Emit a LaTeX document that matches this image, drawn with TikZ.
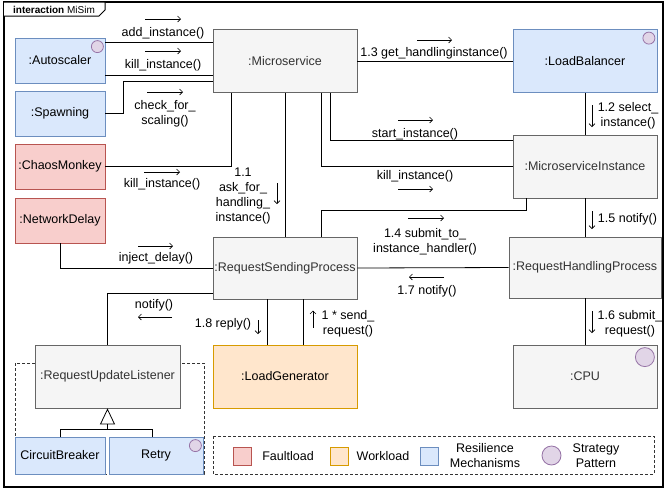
\documentclass[tikz,border=0pt]{standalone}
\usepackage{fontspec}
\setmainfont{Liberation Sans}
\usetikzlibrary{arrows.meta,calc}
\definecolor{gfill}{HTML}{F5F5F5}
\definecolor{gline}{HTML}{666666}
\definecolor{gtext}{HTML}{333333}
\definecolor{bfill}{HTML}{DAE8FC}
\definecolor{bline}{HTML}{6C8EBF}
\definecolor{rfill}{HTML}{F8CECC}
\definecolor{rline}{HTML}{B85450}
\definecolor{ofill}{HTML}{FFE6CC}
\definecolor{oline}{HTML}{D79B00}
\definecolor{pfill}{HTML}{E1D5E7}
\definecolor{pline}{HTML}{9673A6}
\tikzset{
  box/.style={draw, rectangle, inner sep=0pt, line width=0.8pt, align=center},
  gbox/.style={box, fill=gfill, draw=gline, text=gtext},
  bbox/.style={box, fill=bfill, draw=bline},
  rbox/.style={box, fill=rfill, draw=rline},
  obox/.style={box, fill=ofill, draw=oline},
  conn/.style={line width=0.8pt, draw=black},
  lbl/.style={inner sep=0pt, align=center},
  msg/.style={-{Straight Barb[length=3pt,width=6pt]}, line width=0.6pt},
  strat/.style={circle, draw=pline, fill=pfill, inner sep=0pt, line width=0.8pt},
  grp/.style={draw=gtext, dash pattern=on 3pt off 2pt, line width=0.8pt},
}
\begin{document}
\begin{tikzpicture}[x=1pt, y=-1pt, font=\fontsize{12.5}{15}\selectfont]
\useasboundingbox (0,0) rectangle (665,491);
\fill[white] (0,0) rectangle (665,491);
% frame
\draw[line width=1.5pt] (4,2) rectangle (663,487);
\draw[line width=1pt, fill=white] (4,2) -- (105,2) -- (105,10) -- (99,16) -- (4,16);
\node[lbl, font=\fontsize{10}{12}\selectfont] (hdr) at (54,9.5) {\textbf{interaction} MiSim};

% groups (behind)
\draw[grp] (15,363) rectangle (204,474);
\draw[grp] (213,436) rectangle (654,474);

% nodes
\node[bbox, minimum width=90pt, minimum height=45pt] (auto) at (60,60.5) {:Autoscaler};
\node[bbox, minimum width=90pt, minimum height=45pt] (spawn) at (60,113.5) {:Spawning};
\node[rbox, minimum width=90pt, minimum height=45pt] (chaos) at (60,166.5) {:ChaosMonkey};
\node[rbox, minimum width=90pt, minimum height=45pt] (netd) at (60,220.5) {:NetworkDelay};
\node[gbox, minimum width=144pt, minimum height=63pt] (ms) at (285,61) {:Microservice};
\node[bbox, minimum width=144pt, minimum height=63pt] (lb) at (585,61) {:LoadBalancer};
\node[gbox, minimum width=144pt, minimum height=63pt] (mi) at (585,166.5) {:MicroserviceInstance};
\node[gbox, minimum width=152pt, minimum height=61pt] (rhp) at (585,267.5) {:RequestHandlingProcess};
\node[gbox, minimum width=144pt, minimum height=62pt] (rsp) at (285,268) {:RequestSendingProcess};
\node[obox, minimum width=144pt, minimum height=63pt] (lg) at (285,376.5) {:LoadGenerator};
\node[gbox, minimum width=144pt, minimum height=63pt] (cpu) at (585,376.5) {:CPU};
\node[gbox, minimum width=145pt, minimum height=63pt] (rul) at (107.5,376.5) {:RequestUpdateListener};
\node[bbox, minimum width=90pt, minimum height=37pt] (cb) at (60,455.5) {CircuitBreaker};
\node[bbox, minimum width=94pt, minimum height=37pt] (retry) at (156,455.5) {Retry};

% strategy circles
\node[strat, minimum size=12pt] (sa) at ($(auto.north east)+(-8,9)$) {};
\node[strat, minimum size=12pt] (sl) at ($(lb.north east)+(-8.5,9)$) {};
\node[strat, minimum size=12pt] (sr) at ($(retry.north east)+(-8,9)$) {};
\node[strat, minimum size=19pt] (sc) at ($(cpu.north east)+(-12.5,12.5)$) {};

% connectors
\coordinate (a1) at ([yshift=-5pt]auto.north east);
\coordinate (a2) at ([yshift=8pt]auto.south east);
\draw[conn] (a1) -- (a1 -| ms.west);
\draw[conn] (a2) -- (a2 -| ms.west);
\draw[conn] (spawn.east) -- ++(18,0) |- ([yshift=12pt]ms.south west);
\draw[conn] (chaos.east) -| ([xshift=19pt]ms.south west);
\draw[conn] (ms.south) -- (rsp.north);
\draw[conn] ([xshift=-27pt]ms.south east) |- ([yshift=-6pt]mi.north west);
\draw[conn] ([xshift=-36pt]ms.south east) |- (mi.west);
\draw[conn] (ms.east) -- (lb.west);
\draw[conn] (lb.south) -- (mi.north);
\draw[conn] ([xshift=14pt]mi.south west) -- ++(0,12) -| ([xshift=-36pt]rsp.north east);
\draw[conn] (mi.south) -- (rhp.north);
\draw[conn] (rsp.east) -- (rhp.west);
\draw[conn] (rhp.south) -- (cpu.north);
\draw[conn] (netd.south) |- (rsp.west);
\draw[conn] ([yshift=6pt]rsp.south west) -| (rul.north);
\draw[conn] ([xshift=-18pt]rsp.south) -- ([xshift=-18pt]lg.north);
\draw[conn] ([xshift=18pt]lg.north) -- ([xshift=18pt]rsp.south);
\coordinate (junc) at ($(rul.south)+(0,21)$);
\draw[conn, -{Triangle[open, length=16pt, width=15pt]}] (junc) -- (rul.south);
\draw[conn] (cb.north) |- (junc) -| ([xshift=-4pt]retry.north);

% labels
\node[lbl] (l1) at (163,33) {add\_instance()};
\draw[msg] ($(l1.center)+(-18,-14)$) -- ++(36,0);
\node[lbl] (l2) at (163,65) {kill\_instance()};
\draw[msg] ($(l2.center)+(-18,-14)$) -- ++(36,0);
\node[lbl] (l3) at (165,113.5) {check\_for\_\\scaling()};
\draw[msg] ($(l3.center)+(-18,-21.5)$) -- ++(36,0);
\node[lbl] (l4) at (162,184) {kill\_instance()};
\draw[msg] ($(l4.center)+(-18,-12)$) -- ++(36,0);
\node[lbl] (l5) at (243,196) {1.1\\ask\_for\_\\handling\_\\instance()};
\draw[msg] ($(l5.center)+(34,-13)$) -- ++(0,21);
\node[lbl] (l6) at (415,134) {start\_instance()};
\draw[msg] ($(l6.center)+(-17,-14)$) -- ++(35,0);
\node[lbl] (l7) at (415,176) {kill\_instance()};
\draw[msg] ($(l7.center)+(-17,13)$) -- ++(35,0);
\node[lbl] (l8) at (434,53) {1.3 get\_handlinginstance()};
\draw[msg] ($(l8.center)+(-17,-13)$) -- ++(35,0);
\node[lbl] (l9) at (628,115.5) {1.2 select\_\\instance()};
\draw[msg] ($(l9.center)+(-36,-10.5)$) -- ++(0,22);
\node[lbl] (l10) at (425,241.5) {1.4 submit\_to\_\\instance\_handler()};
\draw[msg] ($(l10.center)+(-17,-23.5)$) -- ++(36,0);
\node[lbl] (l11) at (627.5,219) {1.5 notify()};
\draw[msg] ($(l11.center)+(-35.5,-8)$) -- ++(0,18);
\node[lbl] (l12) at (427,291) {1.7 notify()};
\draw[msg] ($(l12.center)+(17,-14)$) -- ++(-35,0);
\node[lbl] (l13) at (630,323.5) {1.6 submit\_\\request()};
\draw[msg] ($(l13.center)+(-38,-12.5)$) -- ++(0,22);
\node[lbl] (l14) at (156,258) {inject\_delay()};
\draw[msg] ($(l14.center)+(-18,-12)$) -- ++(35,0);
\node[lbl] (l15) at (154,305) {notify()};
\draw[msg] ($(l15.center)+(18,12)$) -- ++(-34,0);
\node[lbl] (l16) at (223,324) {1.8 reply()};
\draw[msg] ($(l16.center)+(35,-4)$) -- ++(0,14);
\node[lbl] (l17) at (348,323.5) {1 * send\_\\request()};
\draw[msg] ($(l17.center)+(-35,4)$) -- ++(0,-17);

% legend
\node[box, fill=rfill, draw=rline, minimum size=18pt] (kf) at (242.5,456) {};
\node[lbl] (tf) at (288,456) {Faultload};
\node[box, fill=ofill, draw=oline, minimum size=18pt] (kw) at (339,456) {};
\node[lbl] (tw) at (383,456) {Workload};
\node[box, fill=bfill, draw=bline, minimum size=18pt] (kr) at (429.5,456) {};
\node[lbl] (tr) at (485,456) {Resilience\\Mechanisms};
\node[strat, minimum size=19pt] (ks) at (551.5,455.5) {};
\node[lbl] (ts) at (596,455.5) {Strategy\\Pattern};
\end{tikzpicture}
\end{document}
